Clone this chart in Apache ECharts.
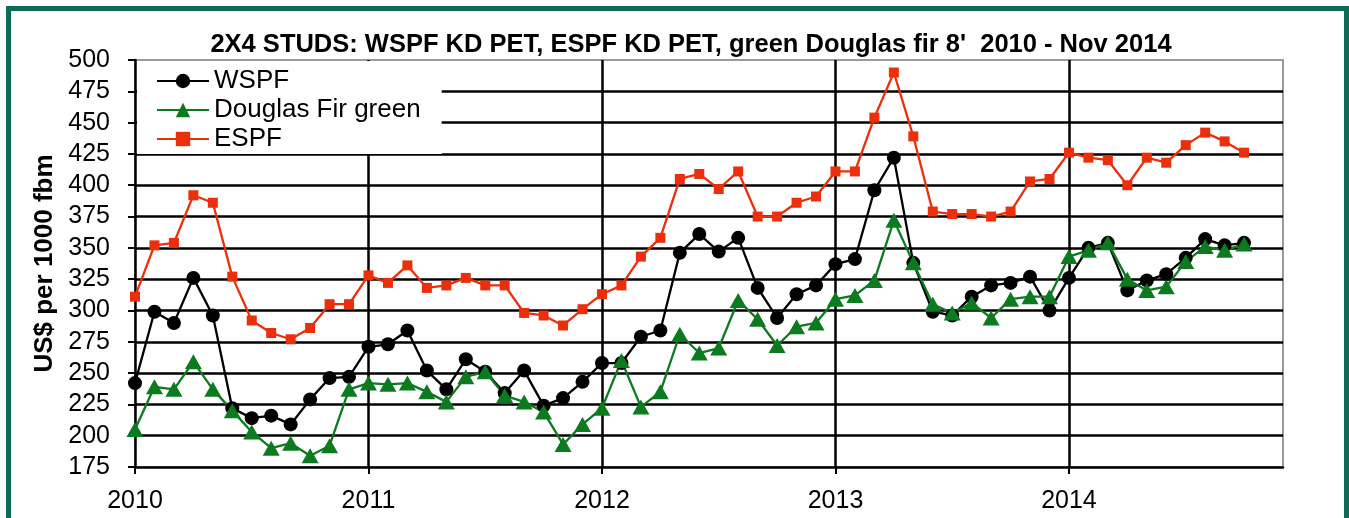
<!DOCTYPE html>
<html>
<head>
<meta charset="utf-8">
<script src="https://cdn.jsdelivr.net/npm/echarts@6/dist/echarts.min.js"></script>
<style>
html,body{margin:0;padding:0;background:#fff;}
#chart{width:1349px;height:518px;}
</style>
</head>
<body>
<div id="chart"></div>
<script>
// Monthly observations, Jan 2010 - Oct 2014
const months = [
  '2010-01','2010-02','2010-03','2010-04','2010-05','2010-06','2010-07','2010-08','2010-09','2010-10','2010-11','2010-12',
  '2011-01','2011-02','2011-03','2011-04','2011-05','2011-06','2011-07','2011-08','2011-09','2011-10','2011-11','2011-12',
  '2012-01','2012-02','2012-03','2012-04','2012-05','2012-06','2012-07','2012-08','2012-09','2012-10','2012-11','2012-12',
  '2013-01','2013-02','2013-03','2013-04','2013-05','2013-06','2013-07','2013-08','2013-09','2013-10','2013-11','2013-12',
  '2014-01','2014-02','2014-03','2014-04','2014-05','2014-06','2014-07','2014-08','2014-09','2014-10'
];
const wspf = [
  242,299,290,326,296,222,214,216,209,229,246,247,
  271,273,284,252,237,261,251,234,252,224,230,243,
  258,258,279,284,346,361,347,358,318,294,313,320,
  337,341,396,422,338,299,296,311,320,322,327,300,
  326,350,354,316,324,329,342,357,352,354
];
const douglasFir = [
  205,239,237,259,237,220,203,190,194,184,192,237,
  242,241,242,235,227,247,251,232,227,219,193,209,
  222,260,223,235,281,266,270,308,293,272,287,290,
  309,312,324,372,338,305,298,306,294,309,311,311,
  343,348,354,325,316,319,339,351,348,353
];
const espf = [
  311,352,354,392,386,327,292,282,277,286,305,305,
  328,322,336,318,320,326,320,320,298,296,288,301,
  313,320,343,358,405,409,397,411,375,375,386,391,
  411,411,454,490,439,379,377,377,375,379,403,405,
  426,422,420,400,422,418,432,442,435,426
];
const seriesNames = ['WSPF', 'Douglas Fir green', 'ESPF'];
const yTicks = {min: 175, max: 500, step: 25};
const xYears = {first: 2010, endMonth: '2014-12'};
const titleText = "2X4 STUDS: WSPF KD PET, ESPF KD PET, green Douglas fir 8'  2010 - Nov 2014";
const yAxisTitle = 'US$ per 1000 fbm';

function toYear(m) {
  const [y, mo] = m.split('-').map(Number);
  return y + (mo - 1) / 12;
}
function pairs(vals) { return vals.map((v, i) => [toYear(months[i]), v]); }

const FONT = '"Liberation Sans", Arial, sans-serif';
const chart = echarts.init(document.getElementById('chart'), null, {renderer: 'canvas'});
chart.setOption({
  backgroundColor: '#ffffff',
  animation: false,
  title: {
    text: titleText,
    left: 686, top: 27,
    textAlign: 'center',
    textStyle: {fontFamily: FONT, fontWeight: 'bold', fontSize: 25.5, color: '#000'}
  },
  legend: {
    left: 137, top: 61,
    orient: 'vertical',
    data: seriesNames,
    backgroundColor: '#ffffff',
    padding: [7, 21, 2, 19],
    itemWidth: 52, itemHeight: 18, itemGap: 3,
    textStyle: {fontFamily: FONT, fontSize: 26, color: '#000'}
  },
  graphic: [{
    type: 'rect', silent: true, z: 100,
    shape: {x: 8.5, y: 8.5, width: 1338, height: 620},
    style: {fill: 'none', stroke: '#0d6b56', lineWidth: 5}
  }],
  grid: {
    left: 135, right: 66, top: 60, bottom: 51,
    show: true, borderColor: '#9a9a9a', borderWidth: 2, backgroundColor: 'transparent'
  },
  xAxis: {
    type: 'value',
    min: xYears.first, max: toYear(xYears.endMonth), interval: 1,
    axisLine: {show: true, lineStyle: {color: '#000', width: 2.5}},
    axisTick: {show: true, inside: false, length: 7, lineStyle: {color: '#000', width: 2}},
    splitLine: {show: true, showMinLine: false, showMaxLine: false, lineStyle: {color: '#000', width: 2.5}},
    axisLabel: {
      margin: 22, fontFamily: FONT, fontSize: 25, color: '#000', showMaxLabel: false,
      formatter: v => (Math.abs(v - Math.round(v)) < 1e-6 ? String(Math.round(v)) : '')
    }
  },
  yAxis: {
    type: 'value',
    min: yTicks.min, max: yTicks.max, interval: yTicks.step,
    name: yAxisTitle, nameLocation: 'middle', nameRotate: 90, nameGap: 75,
    nameTextStyle: {fontFamily: FONT, fontWeight: 'bold', fontSize: 26, color: '#000'},
    axisLine: {show: true, lineStyle: {color: '#000', width: 2.5}},
    axisTick: {show: true, inside: false, length: 7, lineStyle: {color: '#000', width: 2}},
    splitLine: {show: true, showMinLine: false, showMaxLine: false, lineStyle: {color: '#000', width: 2.5}},
    axisLabel: {margin: 25, fontFamily: FONT, fontSize: 25, color: '#000'}
  },
  series: [
    {
      name: seriesNames[0], type: 'line', data: pairs(wspf),
      symbol: 'circle', symbolSize: 14,
      lineStyle: {color: '#000', width: 2.3}, itemStyle: {color: '#000'}
    },
    {
      name: seriesNames[1], type: 'line', data: pairs(douglasFir),
      symbol: 'triangle', symbolSize: [17, 15],
      lineStyle: {color: '#0c7a1e', width: 2.3}, itemStyle: {color: '#0c7a1e'}
    },
    {
      name: seriesNames[2], type: 'line', data: pairs(espf),
      symbol: 'rect', symbolSize: 10,
      lineStyle: {color: '#ec2f0b', width: 2.3}, itemStyle: {color: '#ec2f0b'}
    }
  ]
});
</script>
</body>
</html>
